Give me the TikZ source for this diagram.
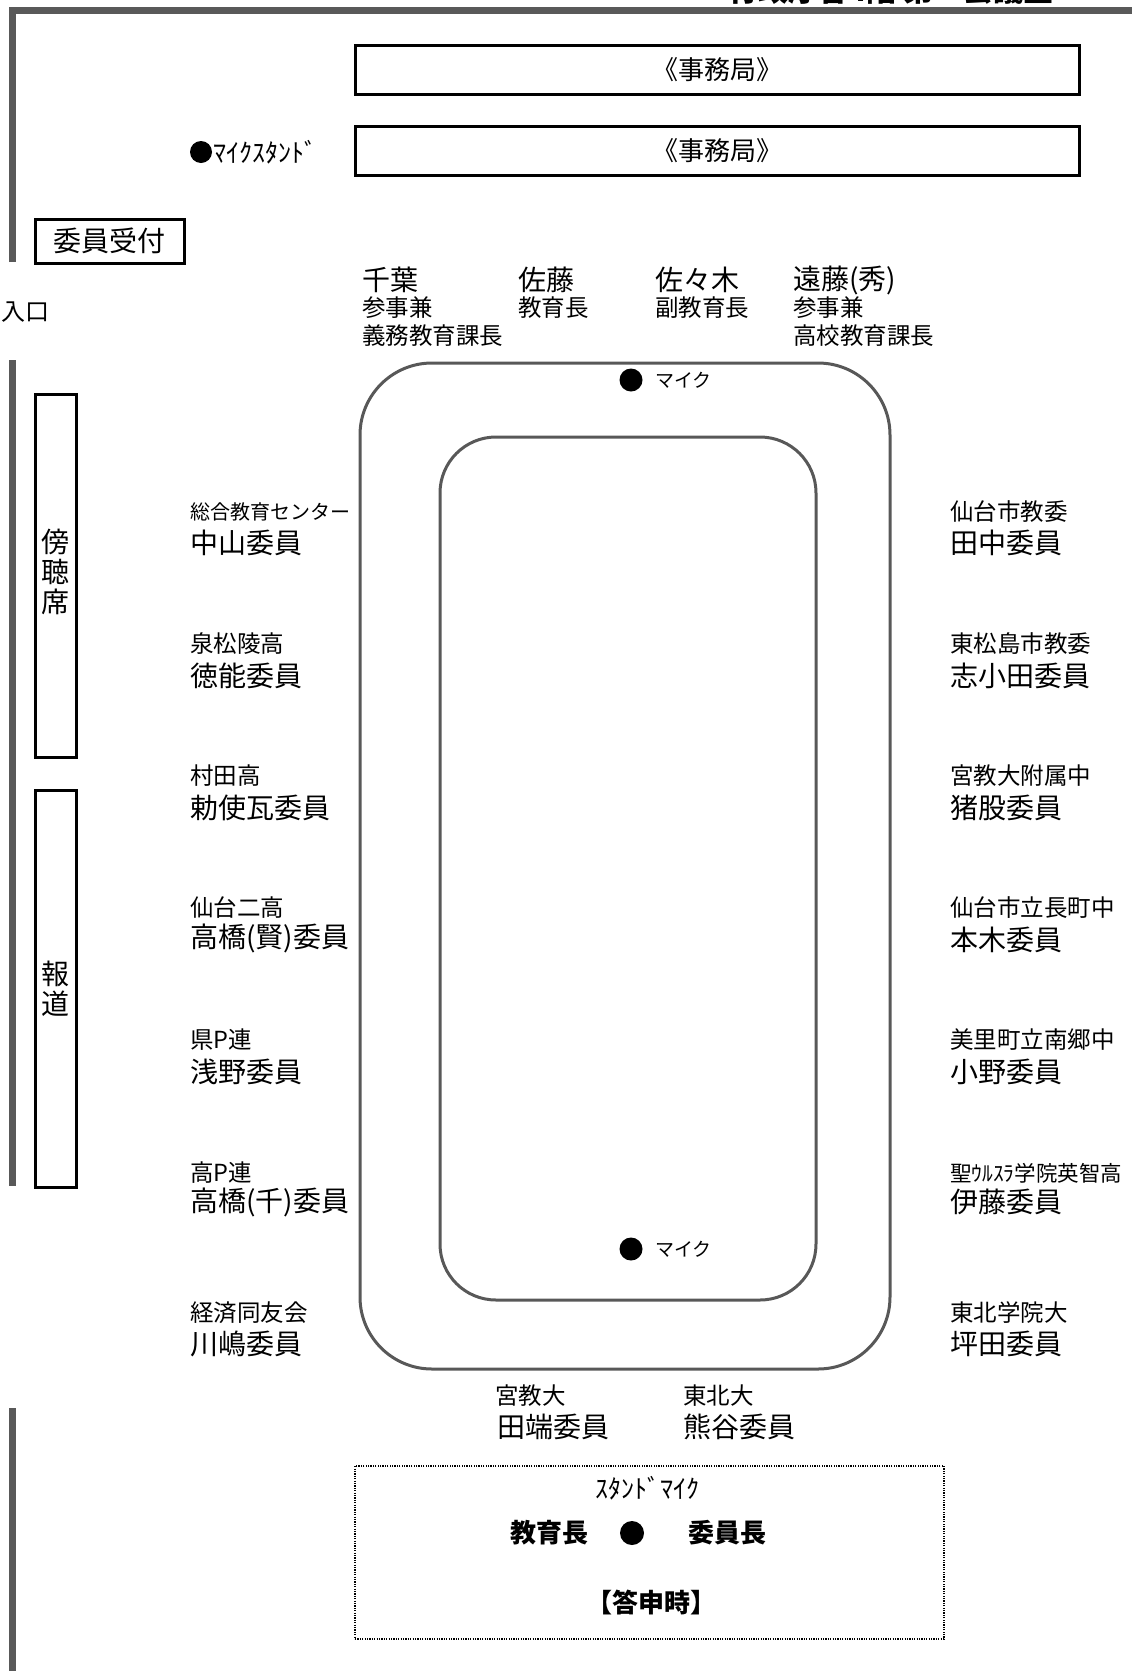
\documentclass[tikz,border=0pt]{standalone}
\usepackage{fontspec}
\setmainfont{Noto Sans CJK JP}
\definecolor{wallgray}{RGB}{89,89,89}
\definecolor{tablegray}{RGB}{88,88,88}
\tikzset{
  wall/.style={draw=wallgray, line width=7pt},
  blackbox/.style={draw=black, line width=3pt, inner sep=0pt},
  tableline/.style={draw=tablegray, line width=3pt},
  fs/.style={font=\fontsize{#1}{#1}\selectfont},
  fsb/.style={font=\fontsize{#1}{#1}\selectfont\bfseries},
  nm/.style={anchor=west, inner sep=0pt, font=\fontsize{28}{30}\selectfont},
  lb/.style={anchor=west, inner sep=0pt, font=\fontsize{23.5}{25}\selectfont},
  txt/.style={inner sep=0pt},
  dot/.style={circle, fill=black, inner sep=0pt, minimum size=23pt},
}
\begin{document}
\begin{tikzpicture}[x=1pt,y=-1pt]
\useasboundingbox (0,0) rectangle (1132,1671);
% cut-off title
\begin{scope}
\clip (0,0) rectangle (1132,1671);
\node[anchor=base west, txt, fsb=30] (title) at (728,1.5) {行政庁舎4階 第一会議室};
\end{scope}
% walls
\draw[wall] (12.5,262) -- (12.5,10) -- (1132,10);
\draw[wall] (12.5,360) -- (12.5,1186);
\draw[wall] (12.5,1408) -- (12.5,1671);
\node[anchor=west, txt, fs=24] (iriguchi) at (1,312) {入口};
% secretariat
\node[blackbox, minimum width=724pt, minimum height=49pt, fs=26] (jimu1) at (717,69.5) {《事務局》};
\node[blackbox, minimum width=724pt, minimum height=49pt, fs=26] (jimu2) at (717,150.5) {《事務局》};
\node[dot, minimum size=22pt] (standdot) at (201,152) {};
\node[anchor=west, txt, fs=26] (standt) at (213,152) {ﾏｲｸｽﾀﾝﾄﾞ};
\node[blackbox, minimum width=149pt, minimum height=44pt, fs=28] (uketsuke) at (109.5,241) {委員受付};
% side boxes
\node[blackbox, minimum width=41pt, minimum height=363pt] (boucho) at (55.5,575.5) {};
\node[txt, align=center, font=\fontsize{28}{30}\selectfont] (bouchot) at (55.5,572) {傍\\聴\\席};
\node[blackbox, minimum width=41pt, minimum height=397pt] (houdou) at (55.5,988.5) {};
\node[txt, align=center, font=\fontsize{28}{30}\selectfont] (houdout) at (55.5,988.5) {報\\道};
% tables
\draw[tableline, rounded corners=72pt] (360,363) rectangle (890,1369);
\draw[tableline, rounded corners=56pt] (440,437) rectangle (816,1300);
\node[dot] (mic1) at (631,380) {};
\node[anchor=west, txt, fs=19] (mic1t) at (655,380) {マイク};
\node[dot] (mic2) at (631,1249) {};
\node[anchor=west, txt, fs=19] (mic2t) at (655,1249) {マイク};
% top row
\node[nm] (chiba) at (362,280) {千葉};
\node[lb] (chibaa) at (362,308) {参事兼};
\node[lb] (chibab) at (362,336) {義務教育課長};
\node[nm] (sato) at (518,280) {佐藤};
\node[lb] (satoa) at (518,308) {教育長};
\node[nm] (sasaki) at (655,280) {佐々木};
\node[lb] (sasakia) at (655,308) {副教育長};
\node[nm] (endo) at (793,280) {遠藤(秀)};
\node[lb] (endoa) at (793,308) {参事兼};
\node[lb] (endob) at (793,336) {高校教育課長};
% left column
\node[anchor=west, txt, fs=20] (l1a) at (190,512) {総合教育センター};
\node[nm] (l1b) at (190,543) {中山委員};
\node[lb] (l2a) at (190,644) {泉松陵高};
\node[nm] (l2b) at (190,676) {徳能委員};
\node[lb] (l3a) at (190,776) {村田高};
\node[nm] (l3b) at (190,808) {勅使瓦委員};
\node[lb] (l4a) at (190,908) {仙台二高};
\node[nm] (l4b) at (190,938) {高橋(賢)委員};
\node[lb] (l5a) at (190,1040) {県P連};
\node[nm] (l5b) at (190,1072) {浅野委員};
\node[lb] (l6a) at (190,1173) {高P連};
\node[nm] (l6b) at (190,1202) {高橋(千)委員};
\node[lb] (l7a) at (190,1313) {経済同友会};
\node[nm] (l7b) at (190,1344) {川嶋委員};
% right column
\node[lb] (r1a) at (950,512) {仙台市教委};
\node[nm] (r1b) at (950,543) {田中委員};
\node[lb] (r2a) at (950,644) {東松島市教委};
\node[nm] (r2b) at (950,676) {志小田委員};
\node[lb] (r3a) at (950,776) {宮教大附属中};
\node[nm] (r3b) at (950,808) {猪股委員};
\node[lb] (r4a) at (950,908) {仙台市立長町中};
\node[nm] (r4b) at (950,940) {本木委員};
\node[lb] (r5a) at (950,1040) {美里町立南郷中};
\node[nm] (r5b) at (950,1072) {小野委員};
\node[anchor=west, txt, fs=21.5] (r6a) at (950,1173) {聖ｳﾙｽﾗ学院英智高};
\node[nm] (r6b) at (950,1202) {伊藤委員};
\node[lb] (r7a) at (950,1313) {東北学院大};
\node[nm] (r7b) at (950,1344) {坪田委員};
% bottom row
\node[lb] (b1a) at (495,1396) {宮教大};
\node[nm] (b1b) at (497,1427) {田端委員};
\node[lb] (b2a) at (683,1396) {東北大};
\node[nm] (b2b) at (683,1427) {熊谷委員};
% report box
\node[draw, line width=2pt, dash pattern=on 1.2pt off 1.2pt, minimum width=589pt, minimum height=173pt, inner sep=0pt] (toshin) at (649.5,1552.5) {};
\node[txt, fs=26] (standmic) at (647,1488) {ｽﾀﾝﾄﾞﾏｲｸ};
\node[txt, fsb=26] (kyoikucho) at (549,1533) {教育長};
\node[dot, minimum size=24pt] (toshindot) at (632,1533) {};
\node[txt, fsb=26] (iincho) at (727,1533) {委員長};
\node[txt, fsb=26] (toshinji) at (651,1602) {【答申時】};
\end{tikzpicture}
\end{document}
